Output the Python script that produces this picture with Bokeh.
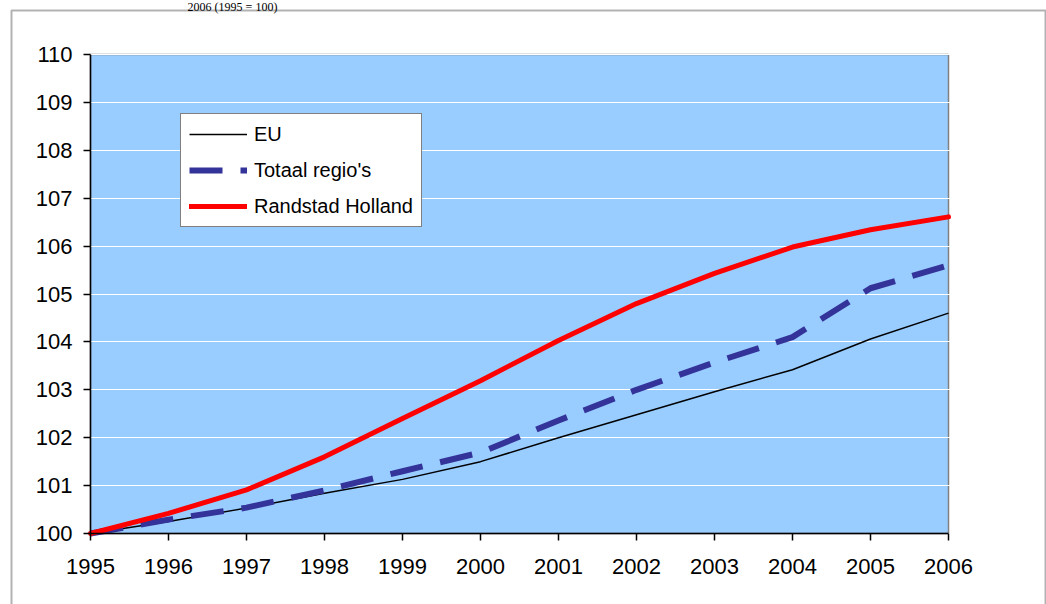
from bokeh.plotting import figure
from bokeh.embed import file_html
from bokeh.resources import INLINE
from bokeh.models import Legend, LegendItem, BoxAnnotation, Label, FixedTicker, Range1d

years = [1995, 1996, 1997, 1998, 1999, 2000, 2001, 2002, 2003, 2004, 2005, 2006]
eu = [100.0, 100.25, 100.53, 100.84, 101.13, 101.5, 102.0, 102.48, 102.96, 103.42, 104.06, 104.6]
totaal = [100.0, 100.29, 100.54, 100.9, 101.3, 101.69, 102.36, 103.0, 103.57, 104.1, 105.12, 105.6]
randstad = [100.0, 100.42, 100.91, 101.6, 102.4, 103.19, 104.03, 104.8, 105.43, 105.98, 106.34, 106.61]
y_ticks = list(range(100, 111))
caption = "2006 (1995 = 100)"

# canvas layout (pixels): plot area edges
W, H = 1046, 604
PL, PT, PR, PB = 90, 54, 948, 533
x0, x1 = years[0], years[-1]
y0, y1 = y_ticks[0], y_ticks[-1]
sx = (PR - PL) / (x1 - x0)
sy = (PB - PT) / (y1 - y0)

p = figure(width=W, height=H, output_backend="svg", toolbar_location=None,
           x_range=Range1d(x0 - PL / sx, x1 + (W - PR) / sx),
           y_range=Range1d(y0 - (H - PB) / sy, y1 + PT / sy),
           min_border=0)
p.background_fill_color = "white"
p.border_fill_color = "white"
p.outline_line_color = None

# plot-area fill (lowest level)
p.quad(left=[x0], right=[x1], bottom=[y0], top=[y1], fill_color="#99CCFF",
       line_color="#808080", line_width=1.5, level="image")

p.xgrid.grid_line_color = None
p.ygrid.grid_line_color = "white"
p.ygrid.grid_line_width = 1
p.ygrid.ticker = FixedTicker(ticks=y_ticks)
p.ygrid.bounds = (x0, x1)

for ax in (p.xaxis[0], p.yaxis[0]):
    ax.axis_line_color = "black"
    ax.axis_line_width = 1.5
    ax.major_tick_line_color = "black"
    ax.major_tick_line_width = 1.5
    ax.major_tick_in = 0
    ax.major_tick_out = 7
    ax.minor_tick_line_color = None
    ax.major_label_text_font = "Liberation Sans"
    ax.major_label_text_font_size = "22px"
    ax.major_label_text_color = "black"
p.xaxis.ticker = FixedTicker(ticks=years)
p.yaxis.ticker = FixedTicker(ticks=y_ticks)
p.xaxis.fixed_location = y0
p.yaxis.fixed_location = x0
p.xaxis.bounds = (x0, x1)
p.yaxis.bounds = (y0, y1)
p.xaxis.major_label_standoff = 18
p.yaxis.major_label_standoff = 11

r_eu = p.line(years, eu, line_color="black", line_width=1.5)
r_tot = p.line(years, totaal, line_color="#333399", line_width=6, line_dash="33 18")
r_rand = p.line(years, randstad, line_color="#FF0000", line_width=5, line_join="round", line_cap="round")

legend = Legend(items=[LegendItem(label="EU", renderers=[r_eu]),
                       LegendItem(label="Totaal regio's", renderers=[r_tot]),
                       LegendItem(label="Randstad Holland", renderers=[r_rand])],
                location=(180, H - 227))
legend.label_text_font = "Liberation Sans"
legend.label_text_font_size = "20px"
legend.label_text_color = "black"
legend.glyph_width = 58
legend.glyph_height = 24
legend.label_height = 24
legend.label_standoff = 7
legend.spacing = 12
legend.padding = 8
legend.margin = 0
legend.border_line_color = "black"
legend.border_line_width = 1
legend.background_fill_color = "white"
legend.background_fill_alpha = 1
p.add_layout(legend, "center")

# outer chart border (screen units, from the frame's bottom-left)
border = BoxAnnotation(left=11, right=1045, top=H - 10, bottom=-30,
                       left_units="screen", right_units="screen",
                       top_units="screen", bottom_units="screen",
                       fill_color=None, fill_alpha=0, line_color="black", line_width=2)
p.add_layout(border)

cap = Label(x=232, y=H + 1, x_units="screen", y_units="screen", text=caption,
            text_font="Liberation Serif", text_font_size="12px", text_color="black",
            text_baseline="top", text_align="center")
p.add_layout(cap)

open("out.html", "w").write(file_html(p, INLINE))
